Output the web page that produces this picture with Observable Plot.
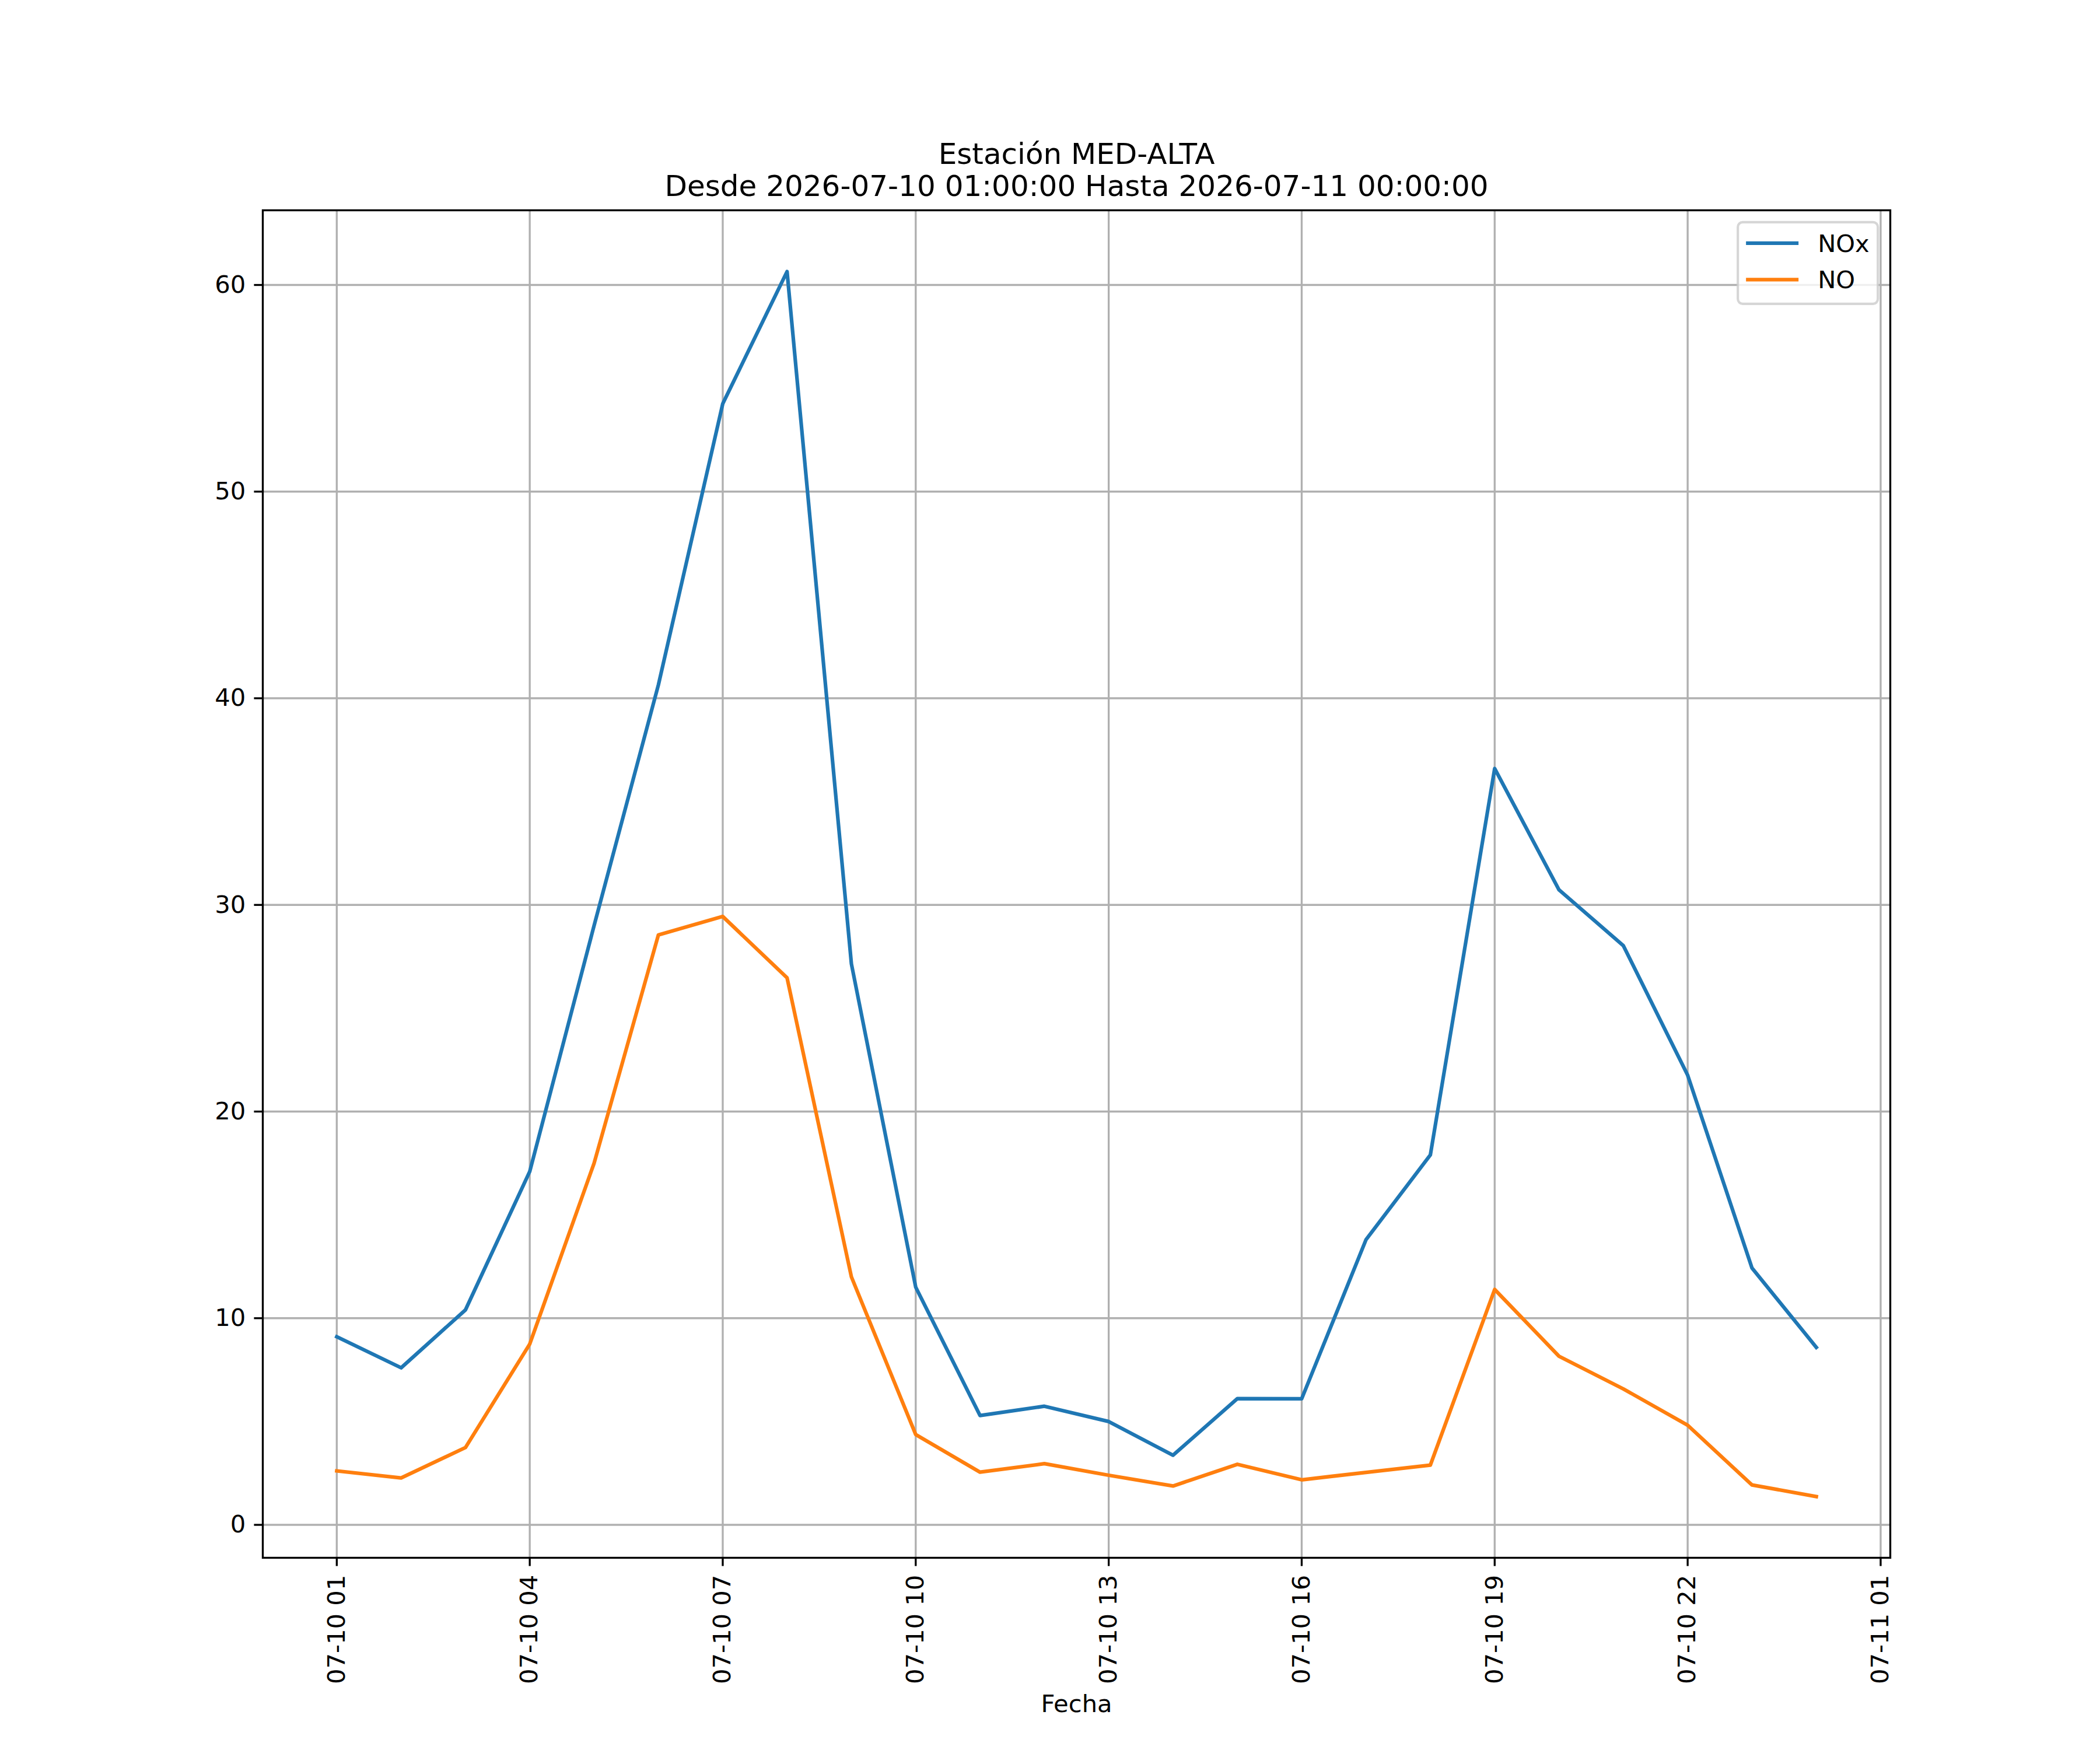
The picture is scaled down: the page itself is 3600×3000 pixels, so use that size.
<!DOCTYPE html>
<html>
<head>
<meta charset="utf-8">
<script src="https://cdn.jsdelivr.net/npm/d3@7"></script>
<script src="https://cdn.jsdelivr.net/npm/@observablehq/plot@0.6"></script>
<style>
  html, body { margin: 0; padding: 0; background: white; }
  #chart svg { display: block; max-width: none; }
</style>
</head>
<body>
<div id="chart"></div>
<script>
// ---- data ----
const titleLine1 = "Estación MED-ALTA";
const titleLine2 = "Desde 2026-07-10 01:00:00 Hasta 2026-07-11 00:00:00";
const xLabel = "Fecha";
const seriesNames = ["NOx", "NO"];
const seriesColors = ["#1f77b4", "#ff7f0e"];

const times = [
  "2026-07-10T01:00Z","2026-07-10T02:00Z","2026-07-10T03:00Z","2026-07-10T04:00Z",
  "2026-07-10T05:00Z","2026-07-10T06:00Z","2026-07-10T07:00Z","2026-07-10T08:00Z",
  "2026-07-10T09:00Z","2026-07-10T10:00Z","2026-07-10T11:00Z","2026-07-10T12:00Z",
  "2026-07-10T13:00Z","2026-07-10T14:00Z","2026-07-10T15:00Z","2026-07-10T16:00Z",
  "2026-07-10T17:00Z","2026-07-10T18:00Z","2026-07-10T19:00Z","2026-07-10T20:00Z",
  "2026-07-10T21:00Z","2026-07-10T22:00Z","2026-07-10T23:00Z","2026-07-11T00:00Z"
];
const noxValues = [9.1, 7.6, 10.4, 17.1, 29.0, 40.65, 54.25, 60.65, 27.15, 11.5, 5.29, 5.74,
                   5.0, 3.37, 6.11, 6.1, 13.8, 17.9, 36.6, 30.73, 28.03, 21.76, 12.43, 8.59];
const noValues  = [2.61, 2.27, 3.74, 8.75, 17.5, 28.55, 29.44, 26.47, 12.0, 4.37, 2.55, 2.96,
                   2.4, 1.88, 2.93, 2.18, 2.54, 2.89, 11.39, 8.16, 6.58, 4.82, 1.93, 1.37];

const xTickLabels = ["2026-07-10T01:00Z","2026-07-10T04:00Z","2026-07-10T07:00Z","2026-07-10T10:00Z",
                     "2026-07-10T13:00Z","2026-07-10T16:00Z","2026-07-10T19:00Z","2026-07-10T22:00Z",
                     "2026-07-11T01:00Z"];
const yTicks = [0, 10, 20, 30, 40, 50, 60];

// ---- build table ----
const rows = [];
times.forEach((t, i) => {
  rows.push({date: new Date(t), value: noxValues[i], series: seriesNames[0]});
  rows.push({date: new Date(t), value: noValues[i], series: seriesNames[1]});
});
const xTicks = xTickLabels.map(d => new Date(d));

// matplotlib-like 5% margins
const xExt = d3.extent(rows, d => +d.date);
const xPad = (xExt[1] - xExt[0]) * 0.05;
const yExt = d3.extent(rows, d => d.value);
const yPad = (yExt[1] - yExt[0]) * 0.05;

const W = 3600, H = 3000;
const mL = 450, mR = 360, mT = 360, mB = 330;
const fs = 41.67;
const lw = 3.33;

const fmt = d3.utcFormat("%m-%d %H");

const chartSvg = Plot.plot({
  width: W,
  height: H,
  marginLeft: mL,
  marginRight: mR,
  marginTop: mT,
  marginBottom: mB,
  style: {fontFamily: "DejaVu Sans", fontSize: fs + "px", color: "black", background: "white"},
  x: {type: "utc", domain: [new Date(xExt[0] - xPad), new Date(xExt[1] + xPad)]},
  y: {domain: [yExt[0] - yPad, yExt[1] + yPad]},
  color: {domain: seriesNames, range: seriesColors},
  marks: [
    Plot.gridX(xTicks, {stroke: "#b0b0b0", strokeOpacity: 1, strokeWidth: lw}),
    Plot.gridY(yTicks, {stroke: "#b0b0b0", strokeOpacity: 1, strokeWidth: lw}),
    Plot.line(rows, {x: "date", y: "value", z: "series", stroke: "series",
                     strokeWidth: 6.25, strokeLinejoin: "round", strokeLinecap: "square"}),
    Plot.frame({stroke: "black", strokeWidth: lw}),
    Plot.axisX(xTicks, {tickFormat: fmt, tickRotate: -90, tickSize: 14.6, tickPadding: 14.6,
                        fontSize: fs, strokeWidth: lw, label: null}),
    Plot.axisY(yTicks, {tickSize: 14.6, tickPadding: 14.6, fontSize: fs, strokeWidth: lw, label: null}),
    Plot.text([titleLine1], {frameAnchor: "top", dy: 280 - mT, lineAnchor: "bottom",
                             fontSize: 50, fill: "black"}),
    Plot.text([titleLine2], {frameAnchor: "top", dy: 335 - mT, lineAnchor: "bottom",
                             fontSize: 50, fill: "black"}),
    Plot.text([xLabel], {frameAnchor: "bottom", dy: 2921 - (H - mB), lineAnchor: "middle",
                         fontSize: fs, fill: "black"})
  ]
});

// ---- legend (upper right, matplotlib style) ----
const frameRight = W - mR, frameTop = mT;
const legPad = 0.5 * fs;
const lg = d3.select(chartSvg).append("g")
  .attr("font-family", "DejaVu Sans").attr("font-size", fs).attr("text-anchor", "start");
const boxW = 240, boxH = 140;
const bx = frameRight - legPad - boxW, by = frameTop + legPad;
lg.append("rect")
  .attr("x", bx).attr("y", by).attr("width", boxW).attr("height", boxH)
  .attr("rx", 8.3).attr("ry", 8.3)
  .attr("fill", "white").attr("fill-opacity", 0.8)
  .attr("stroke", "#cccccc").attr("stroke-opacity", 0.8).attr("stroke-width", 4.17);
seriesNames.forEach((name, i) => {
  const cy = by + 36 + i * 62.5;
  lg.append("line")
    .attr("x1", bx + 14).attr("x2", bx + 104)
    .attr("y1", cy).attr("y2", cy)
    .attr("stroke", seriesColors[i]).attr("stroke-width", 6.25);
  lg.append("text")
    .attr("x", bx + 137).attr("y", cy + 15)
    .attr("text-anchor", "start")
    .attr("fill", "black")
    .text(name);
});

document.getElementById("chart").appendChild(chartSvg);
</script>
</body>
</html>
